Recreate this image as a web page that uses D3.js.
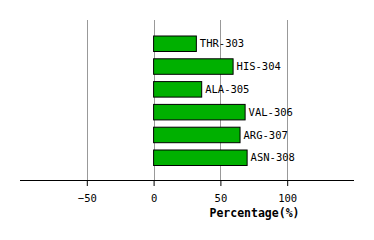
<!DOCTYPE html>
<html>
<head>
<meta charset="utf-8">
<script src="https://cdn.jsdelivr.net/npm/d3@7.9.0/dist/d3.min.js"></script>
<style>
  body { margin: 0; background: #fff; }
  svg { display: block; }
  text { font-family: "DejaVu Sans Mono", monospace; }
</style>
</head>
<body>
<div id="chart"></div>
<script>
const residues = ["THR-303", "HIS-304", "ALA-305", "VAL-306", "ARG-307", "ASN-308"];
const percentages = [32, 59.5, 36, 68.5, 64.7, 70];
const xTicks = [-50, 0, 50, 100];

const width = 374;
const height = 240;
const plot = { left: 20, right: 354, top: 20, bottom: 180 };

const svg = d3
  .select("#chart")
  .append("svg")
  .attr("width", width)
  .attr("height", height);

const xScale = d3.scaleLinear().domain([-100, 150]).range([plot.left, plot.right]);
const yScale = d3
  .scaleBand()
  .domain(residues)
  .range([28.7, 172.8])
  .padding(0.32);

// vertical gridlines
svg
  .append("g")
  .selectAll("line")
  .data(xTicks)
  .join("line")
  .attr("x1", (d) => Math.round(xScale(d)) + 0.5)
  .attr("x2", (d) => Math.round(xScale(d)) + 0.5)
  .attr("y1", plot.top)
  .attr("y2", plot.bottom)
  .attr("stroke", "#999")
  .attr("stroke-width", 1);

// bars
svg
  .append("g")
  .selectAll("rect")
  .data(residues)
  .join("rect")
  .attr("x", xScale(0))
  .attr("y", (d) => yScale(d))
  .attr("width", (d, i) => xScale(percentages[i]) - xScale(0))
  .attr("height", yScale.bandwidth())
  .attr("fill", "#00b000")
  .attr("stroke", "#000")
  .attr("stroke-width", 1);

// bar labels
svg
  .append("g")
  .selectAll("text")
  .data(residues)
  .join("text")
  .attr("x", (d, i) => xScale(percentages[i]) + 3.5)
  .attr("y", (d) => yScale(d) + yScale.bandwidth() / 2)
  .attr("dy", "0.35em")
  .attr("font-size", 10.5)
  .attr("fill", "#000")
  .text((d) => d);

// x axis
const xAxis = d3
  .axisBottom(xScale)
  .tickValues(xTicks)
  .tickSize(6)
  .tickPadding(9)
  .tickFormat(d3.format("d"));

const axisG = svg
  .append("g")
  .attr("transform", `translate(0, ${plot.bottom})`)
  .call(xAxis);

axisG.select(".domain").attr("stroke", "#000").attr("d", `M${plot.left},0.5H${plot.right}`);
axisG.selectAll(".tick line").attr("stroke", "#000");
axisG
  .selectAll(".tick text")
  .attr("font-family", "DejaVu Sans Mono, monospace")
  .attr("font-size", 10.5)
  .attr("fill", "#000");

svg
  .append("text")
  .attr("x", 254.5)
  .attr("y", 216.5)
  .attr("text-anchor", "middle")
  .attr("font-size", 11.5)
  .attr("font-weight", "bold")
  .text("Percentage(%)");
</script>
</body>
</html>
